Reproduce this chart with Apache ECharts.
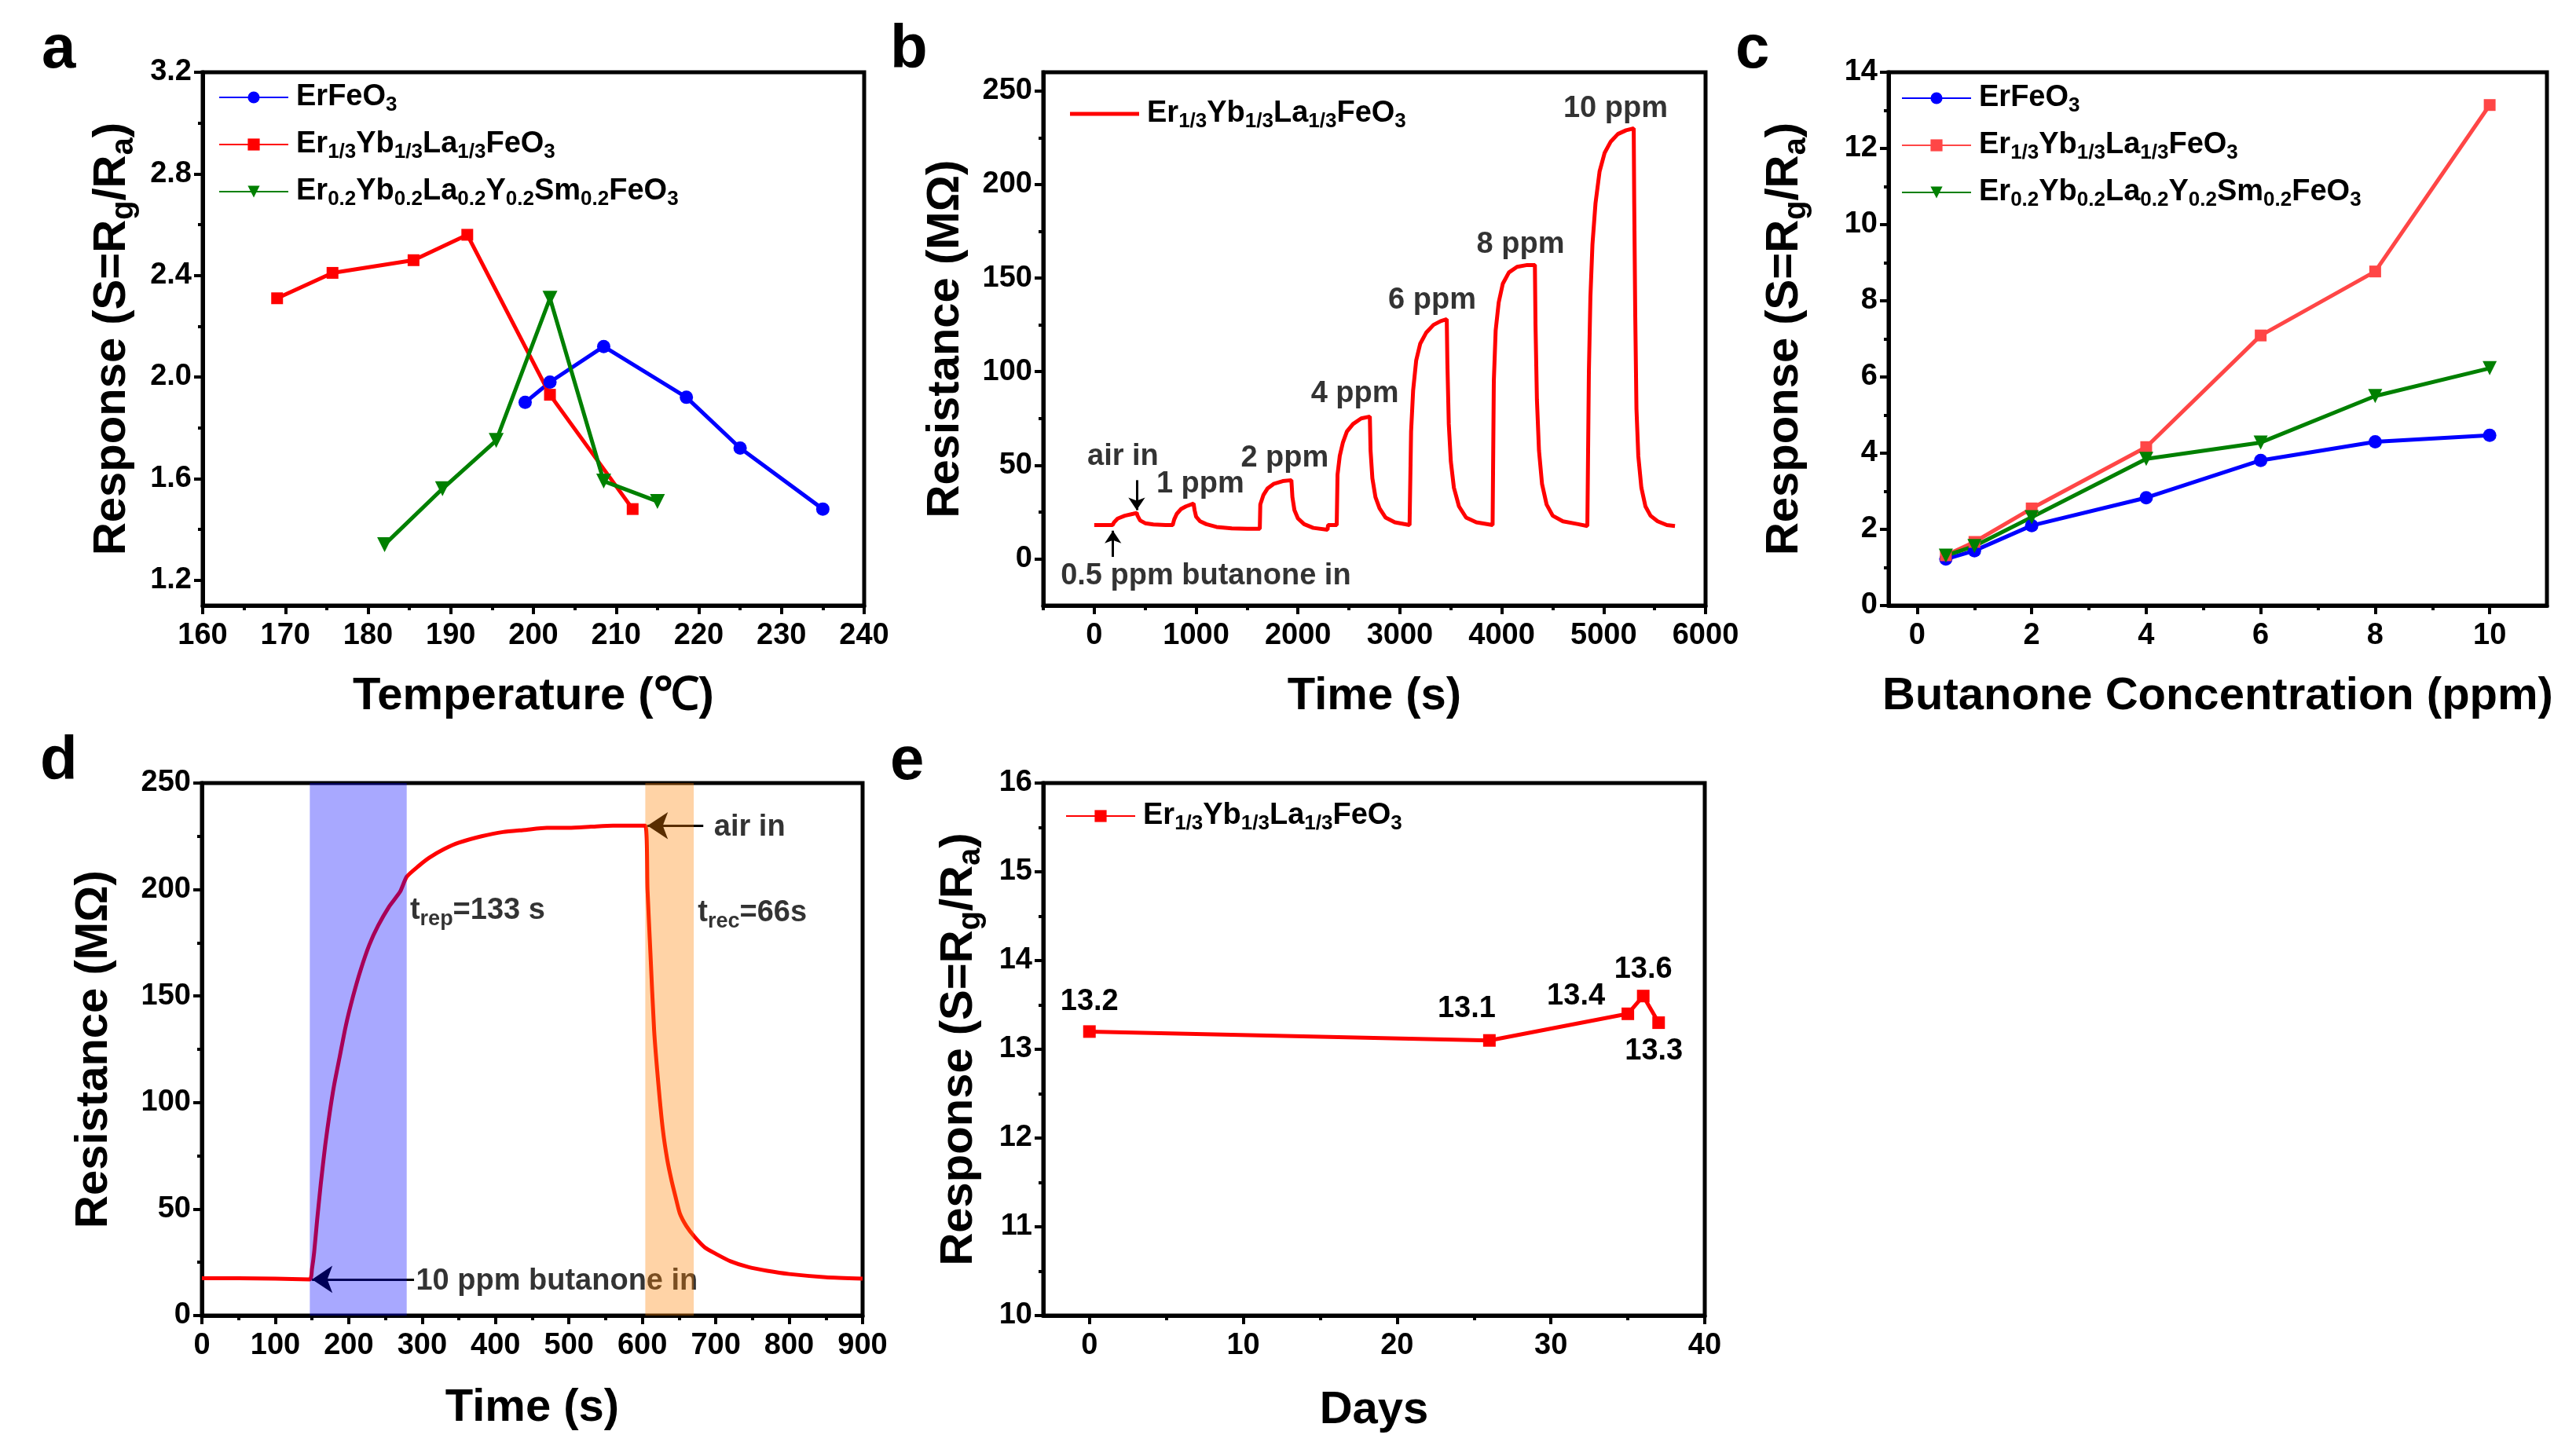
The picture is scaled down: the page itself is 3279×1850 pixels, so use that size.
<!DOCTYPE html>
<html>
<head>
<meta charset="utf-8">
<script src="https://cdn.jsdelivr.net/npm/echarts@6/dist/echarts.min.js"></script>
<style>
  html, body { margin: 0; padding: 0; background: #fff; }
  #chart { width: 3279px; height: 1850px; }
</style>
</head>
<body>
<div id="chart"></div>
<script>
const FONT = 'Liberation Sans, Arial, Helvetica, sans-serif'

// ---- panel a : response vs temperature
const aTempBlue = [199, 202, 208.5, 218.5, 225, 235]
const aRespBlue = [1.90, 1.98, 2.12, 1.92, 1.72, 1.48]
const aTempRed = [169, 175.7, 185.5, 192, 202, 212]
const aRespRed = [2.31, 2.41, 2.46, 2.56, 1.93, 1.48]
const aTempGreen = [182, 189, 195.5, 202, 208.5, 215]
const aRespGreen = [1.34, 1.56, 1.75, 2.31, 1.59, 1.51]
const aXTicks = [160, 170, 180, 190, 200, 210, 220, 230, 240]
const aXMinor = [165, 175, 185, 195, 205, 215, 225, 235]
const aYTicks = [1.2, 1.6, 2.0, 2.4, 2.8, 3.2]
const aYMinor = [1.4, 1.8, 2.2, 2.6, 3.0]

// ---- panel b : dynamic resistance
const bTime = [0, 180, 195, 230, 300, 380, 417, 425, 450, 500, 580, 700, 770,
  785, 810, 850, 900, 975, 985, 1000, 1040, 1100, 1200, 1350, 1500, 1625,
  1630, 1660, 1700, 1760, 1850, 1935, 1945, 1965, 2000, 2060, 2150, 2290,
  2295, 2380,
  2388, 2410, 2440, 2480, 2540, 2620, 2705, 2712, 2730, 2760, 2800, 2860, 2950, 3095,
  3100, 3110, 3130, 3160, 3200, 3260, 3330, 3400, 3460, 3466, 3480, 3500, 3530, 3580, 3650, 3750, 3910,
  3915, 3922, 3940, 3970, 4010, 4070, 4150, 4250, 4325, 4331, 4345, 4365, 4395, 4440, 4500, 4600, 4750, 4840,
  4845, 4855, 4870, 4890, 4920, 4960, 5010, 5070, 5140, 5220, 5295, 5300, 5310, 5322, 5340, 5370, 5410, 5460, 5530, 5620, 5700]
const bRes = [18, 18, 19.5, 21.5, 23, 24, 24.5, 23, 20.5, 19, 18.3, 18, 18,
  21, 24, 26.5, 28, 29.5, 26, 22.5, 20, 18.5, 17, 16.2, 16, 16,
  29, 34, 37.5, 40, 41.5, 42, 33, 26, 21.5, 18.5, 16.5, 15.5,
  18, 18,
  45, 55, 62, 68, 72, 75, 76, 58, 43, 33, 27, 22, 19.5, 18,
  18, 68, 90, 106, 115, 121, 125, 127, 128, 105, 72, 52, 38, 28, 22, 19.5, 18,
  18, 95, 122, 137, 147, 153, 156, 157, 157, 125, 85, 58, 40, 29, 23, 20, 18.5, 17.5,
  17.5, 100, 140, 168, 190, 207, 217, 223, 227, 229, 230, 190, 130, 80, 55, 38, 28, 23, 20, 18, 17.5]
const bNotes = ['air in', '1 ppm', '2 ppm', '4 ppm', '6 ppm', '8 ppm', '10 ppm', '0.5 ppm butanone in']
const bNoteX = [282, 1041, 1870, 2558, 3317, 4184, 5117, 1095]
const bNoteY = [54.7, 40, 53.5, 88, 138, 168, 240.5, -9.2]
const bArrows = [[[417, 42], [417, 26]], [[184, 1], [184, 15]]]
const bXTicks = [0, 1000, 2000, 3000, 4000, 5000, 6000]
const bXMinor = [-500, 500, 1500, 2500, 3500, 4500, 5500]
const bYTicks = [0, 50, 100, 150, 200, 250]
const bYMinor = [25, 75, 125, 175, 225]

// ---- panel c : response vs concentration
const cConc = [0.5, 1, 2, 4, 6, 8, 10]
const cRespBlue = [1.22, 1.44, 2.10, 2.83, 3.81, 4.30, 4.47]
const cRespRed = [1.32, 1.67, 2.55, 4.16, 7.09, 8.77, 13.14]
const cRespGreen = [1.31, 1.56, 2.32, 3.85, 4.28, 5.50, 6.23]
const cXTicks = [0, 2, 4, 6, 8, 10]
const cXMinor = [1, 3, 5, 7, 9]
const cYTicks = [0, 2, 4, 6, 8, 10, 12, 14]
const cYMinor = [1, 3, 5, 7, 9, 11, 13]

// ---- panel d : response / recovery at 10 ppm
const dTime = [0, 50, 100, 147, 150, 153, 157, 162, 168, 174, 180, 188, 196, 206, 216, 228, 240, 255, 270, 279,
  295, 310, 330, 350, 381, 410, 440, 470, 500, 530, 560, 590, 604, 607, 611, 616, 622, 628, 634, 640,
  645, 651, 660, 671, 685, 700, 720, 745, 770, 800, 850, 900]
const dRes = [17.5, 17.5, 17.3, 17, 22, 30, 45, 62, 80, 95, 108, 122, 136, 150, 162, 174, 183, 192, 199, 206,
  211, 215, 219, 222, 225, 227, 228, 229, 229, 229.5, 230, 230, 230, 200, 170, 134, 108, 87, 73, 63,
  56, 48, 42, 37, 32, 29, 25.5, 22.7, 21, 19.5, 18, 17.3]
const dBandRep = [147, 279]
const dBandRec = [604, 670]
const dNotes = ['air in', '{t|t}{s|rep}{t|=133 s}', '{t|t}{s|rec}{t|=66s}', '10 ppm butanone in']
const dNoteX = [697, 283, 675, 291]
const dNoteY = [229, 190, 189, 16]
const dArrows = [[[289, 17], [150, 17]], [[683, 230], [607, 230]]]
const dXTicks = [0, 100, 200, 300, 400, 500, 600, 700, 800, 900]
const dXMinor = [50, 150, 250, 350, 450, 550, 650, 750, 850]
const dYTicks = [0, 50, 100, 150, 200, 250]
const dYMinor = [25, 75, 125, 175, 225]

// ---- panel e : stability
const eDays = [0, 26, 35, 36, 37]
const eResp = [13.2, 13.1, 13.4, 13.6, 13.3]
const eXTicks = [0, 10, 20, 30, 40]
const eXMinor = [5, 15, 25, 35]
const eYTicks = [10, 11, 12, 13, 14, 15, 16]
const eYMinor = [10.5, 11.5, 12.5, 13.5, 14.5, 15.5]

// label shifts (px) for the panel e value labels
const eLabelShift = [[0, -38], [-29, -40], [-66, -22], [0, -34], [-6, 36]]

const legendText = {
  'ErFeO3': '{n|ErFeO}{s|3}',
  'Er1/3Yb1/3La1/3FeO3': '{n|Er}{s|1/3}{n|Yb}{s|1/3}{n|La}{s|1/3}{n|FeO}{s|3}',
  'Er0.2Yb0.2La0.2Y0.2Sm0.2FeO3': '{n|Er}{s|0.2}{n|Yb}{s|0.2}{n|La}{s|0.2}{n|Y}{s|0.2}{n|Sm}{s|0.2}{n|FeO}{s|3}'
}
const RESPONSE = 'Response (S=R{s|g}/R{s|a})'

function pairs(xs, ys) {
  return xs.map((x, i) => [x, ys[i]])
}

const txt = { color: '#000', fontFamily: FONT, fontWeight: 'bold' }

function subRich(main, sub, drop) {
  return {
    n: { ...txt, fontSize: main },
    t: { ...txt, fontSize: main },
    s: { ...txt, fontSize: sub, padding: [drop, 0, 0, 0] }
  }
}

function axisPair(dim, gridIndex, min, max, ticks, minor, name, nameGap, fmt) {
  const pos = dim == 'x' ? 'bottom' : 'left'
  const main = {
    type: 'value', gridIndex, min, max, position: pos,
    splitLine: { show: false },
    axisLine: { show: true, onZero: false, lineStyle: { color: '#000', width: 5 } },
    axisTick: { show: true, customValues: ticks, length: 11, lineStyle: { color: '#000', width: 4 } },
    axisLabel: {
      show: true, customValues: ticks, ...txt, fontSize: 38,
      margin: dim == 'x' ? 20 : 14,
      formatter: fmt || (v => String(v))
    },
    name, nameLocation: 'middle', nameGap,
    nameTextStyle: { ...txt, fontSize: 58, rich: subRich(58, 40, 30) }
  }
  const small = {
    type: 'value', gridIndex, min, max, position: pos,
    splitLine: { show: false },
    axisLine: { show: false, onZero: false },
    axisLabel: { show: false },
    axisTick: { show: true, customValues: minor, length: 6, lineStyle: { color: '#000', width: 4 } }
  }
  return [main, small]
}

const grids = [
  { left: 258, top: 92, width: 842, height: 679 },
  { left: 1328, top: 92, width: 843, height: 679 },
  { left: 2404, top: 92, width: 838, height: 679 },
  { left: 257, top: 997, width: 841, height: 678 },
  { left: 1328, top: 997, width: 842, height: 678 }
].map(g => ({ ...g, show: true, borderColor: '#000', borderWidth: 5, containLabel: false }))

const xAxes = [
  ...axisPair('x', 0, 160, 240, aXTicks, aXMinor, 'Temperature (℃)', 87),
  ...axisPair('x', 1, -500, 6000, bXTicks, bXMinor, 'Time (s)', 87),
  ...axisPair('x', 2, -0.5, 11, cXTicks, cXMinor, 'Butanone Concentration (ppm)', 87),
  ...axisPair('x', 3, 0, 900, dXTicks, dXMinor, 'Time (s)', 89),
  ...axisPair('x', 4, -3, 40, eXTicks, eXMinor, 'Days', 92)
]
const yAxes = [
  ...axisPair('y', 0, 1.1, 3.2, aYTicks, aYMinor, RESPONSE, 80, v => v.toFixed(1)),
  ...axisPair('y', 1, -25, 260, bYTicks, bYMinor, 'Resistance (MΩ)', 95),
  ...axisPair('y', 2, 0, 14, cYTicks, cYMinor, RESPONSE, 97),
  ...axisPair('y', 3, 0, 250, dYTicks, dYMinor, 'Resistance (MΩ)', 108),
  ...axisPair('y', 4, 10, 16, eYTicks, eYMinor, RESPONSE, 72)
]

function markerLine(name, panel, data, color, symbol, size, extra) {
  return Object.assign({
    name, type: 'line', xAxisIndex: panel * 2, yAxisIndex: panel * 2,
    data, symbol, symbolSize: size,
    lineStyle: { color, width: 5 },
    itemStyle: { color },
    z: 3
  }, extra || {})
}

function notes(panel, texts, xs, ys, position, arrows, headSize, fontSize) {
  return {
    type: 'scatter', xAxisIndex: panel * 2, yAxisIndex: panel * 2,
    symbolSize: 1, itemStyle: { color: 'rgba(0,0,0,0)' },
    data: texts.map((t, i) => ({ name: t, value: [xs[i], ys[i]] })),
    label: {
      show: true, position, distance: 0, formatter: '{b}',
      ...txt, fontSize, rich: subRich(fontSize, 27, 22)
    },
    markLine: {
      silent: true, symbol: ['none', 'arrow'], symbolSize: headSize,
      lineStyle: { color: '#000', width: 3, type: 'solid' },
      label: { show: false },
      data: arrows.map(a => [{ coord: a[0] }, { coord: a[1] }])
    },
    z: 4
  }
}

const series = [
  markerLine('ErFeO3', 0, pairs(aTempBlue, aRespBlue), '#0000ff', 'circle', 17),
  markerLine('Er1/3Yb1/3La1/3FeO3', 0, pairs(aTempRed, aRespRed), '#ff0000', 'rect', 15),
  markerLine('Er0.2Yb0.2La0.2Y0.2Sm0.2FeO3', 0, pairs(aTempGreen, aRespGreen), '#008000', 'triangle', 19, { symbolRotate: 180 }),

  markerLine('Er1/3Yb1/3La1/3FeO3 (b)', 1, pairs(bTime, bRes), '#ff0000', 'none', 0),
  notes(1, bNotes, bNoteX, bNoteY, 'inside', bArrows, 16, 38),

  markerLine('ErFeO3 (c)', 2, pairs(cConc, cRespBlue), '#0000ff', 'circle', 17),
  markerLine('Er1/3Yb1/3La1/3FeO3 (c)', 2, pairs(cConc, cRespRed), '#ff4646', 'rect', 15),
  markerLine('Er0.2Yb0.2La0.2Y0.2Sm0.2FeO3 (c)', 2, pairs(cConc, cRespGreen), '#008000', 'triangle', 18, { symbolRotate: 180 }),

  markerLine('resp-rec', 3, pairs(dTime, dRes), '#ff0000', 'none', 0, { smooth: 0.2 }),
  notes(3, dNotes, dNoteX, dNoteY, 'right', dArrows, 26, 38),
  {
    type: 'line', xAxisIndex: 6, yAxisIndex: 6, data: [],
    markArea: {
      silent: true, z: 10,
      data: [
        [{ xAxis: dBandRep[0], itemStyle: { color: 'rgba(0,0,255,0.34)' } }, { xAxis: dBandRep[1] }],
        [{ xAxis: dBandRec[0], itemStyle: { color: 'rgba(255,128,0,0.35)' } }, { xAxis: dBandRec[1] }]
      ]
    }
  },

  markerLine('Er1/3Yb1/3La1/3FeO3 (e)', 4, pairs(eDays, eResp).map((p, i) => ({
    value: p,
    label: { offset: eLabelShift[i] }
  })), '#ff0000', 'rect', 16, {
    label: {
      show: true, position: 'inside', ...txt, fontSize: 38,
      formatter: p => p.value[1].toFixed(1)
    }
  })
]

const legendBase = {
  orient: 'vertical', itemWidth: 88, itemHeight: 19, itemGap: 18, padding: 0,
  selectedMode: false,
  textStyle: { ...txt, fontSize: 38, padding: [0, 0, 0, 5], rich: subRich(38, 26, 20) },
  formatter: name => legendText[name.replace(/ \(.\)$/, '')]
}

const legends = [
  { ...legendBase, left: 278, top: 105, data: ['ErFeO3', 'Er1/3Yb1/3La1/3FeO3', 'Er0.2Yb0.2La0.2Y0.2Sm0.2FeO3'] },
  { ...legendBase, left: 1362, top: 126, itemHeight: 5, data: [{ name: 'Er1/3Yb1/3La1/3FeO3 (b)', icon: 'rect' }] },
  { ...legendBase, left: 2420, top: 106, data: ['ErFeO3 (c)', 'Er1/3Yb1/3La1/3FeO3 (c)', 'Er0.2Yb0.2La0.2Y0.2Sm0.2FeO3 (c)'] },
  { ...legendBase, left: 1356, top: 1020, data: ['Er1/3Yb1/3La1/3FeO3 (e)'] }
]

const panelLetters = [['a', 48, 20], ['b', 1128, 20], ['c', 2204, 20], ['d', 46, 926], ['e', 1128, 926]]

const chart = echarts.init(document.getElementById('chart'), null, { renderer: 'canvas' })
chart.setOption({
  animation: false,
  backgroundColor: '#fff',
  title: panelLetters.map(p => ({
    text: p[0], left: p[1], top: p[2],
    textStyle: { ...txt, fontSize: 78 }
  })),
  legend: legends,
  grid: grids,
  xAxis: xAxes,
  yAxis: yAxes,
  series
})
</script>
</body>
</html>
